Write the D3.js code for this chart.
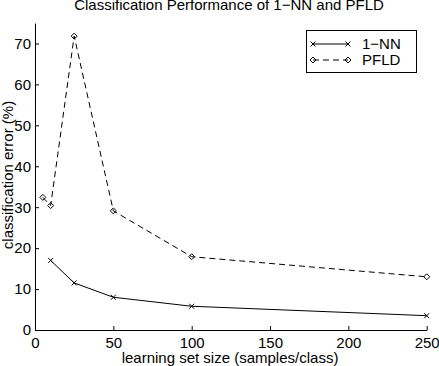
<!DOCTYPE html>
<html>
<head>
<style>
  body { margin: 0; background: #fff; }
  text { font-family: "Liberation Sans", Arial, sans-serif; }
</style>
</head>
<body>
<script src="https://cdnjs.cloudflare.com/ajax/libs/d3/7.8.5/d3.min.js"></script>
<script>
var w = 439, h = 366;

// data
var nnSizes = [10, 25, 50, 100, 250];
var nnError = [17, 11.5, 8, 5.8, 3.5];
var pfldSizes = [5, 10, 25, 50, 100, 250];
var pfldError = [32.4, 30.4, 71.8, 29.1, 17.9, 13];
var xTicks = [0, 50, 100, 150, 200, 250];
var yTicks = [0, 10, 20, 30, 40, 50, 60, 70];

var plotLeft = 35, plotRight = 426.7, plotTop = 23, plotBottom = 330;
var fs = "15px";

var x = d3.scaleLinear().domain([0, 250]).range([plotLeft, plotRight]);
var y = d3.scaleLinear().domain([0, 75]).range([plotBottom, plotTop]);

var svg = d3.select("body").append("svg")
    .attr("width", w).attr("height", h);

// axes with inward ticks
var xAxis = svg.append("g")
    .attr("transform", "translate(0," + plotBottom + ")")
    .call(d3.axisBottom(x).tickValues(xTicks).tickSize(-4).tickPadding(7).tickSizeOuter(0));
var yAxis = svg.append("g")
    .attr("transform", "translate(" + plotLeft + ",0)")
    .call(d3.axisLeft(y).tickValues(yTicks).tickSize(-4).tickPadding(4).tickSizeOuter(0));

[xAxis, yAxis].forEach(function(g) {
    g.select(".domain").attr("stroke", "#000").attr("stroke-width", 1);
    g.selectAll(".tick line").attr("stroke", "#000");
    g.selectAll(".tick text").attr("font-size", fs).attr("fill", "#000")
        .attr("font-family", "Liberation Sans, Arial, sans-serif");
});

var nnData = nnSizes.map(function(d, i) { return [d, nnError[i]]; });
var pfldData = pfldSizes.map(function(d, i) { return [d, pfldError[i]]; });

var line = d3.line()
    .x(function(d) { return x(d[0]); })
    .y(function(d) { return y(d[1]); });

svg.append("path").datum(nnData)
    .attr("d", line).attr("fill", "none")
    .attr("stroke", "#000").attr("stroke-width", 1);

svg.append("path").datum(pfldData)
    .attr("d", line).attr("fill", "none")
    .attr("stroke", "#000").attr("stroke-width", 1)
    .attr("stroke-dasharray", "6,4");

// markers
function xMark(g, cx, cy) {
    g.append("path")
        .attr("d", "M" + (cx - 2.5) + "," + (cy - 2.5) + "L" + (cx + 2.5) + "," + (cy + 2.5) +
                   "M" + (cx - 2.5) + "," + (cy + 2.5) + "L" + (cx + 2.5) + "," + (cy - 2.5))
        .attr("stroke", "#000").attr("fill", "none");
}
function dMark(g, cx, cy) {
    g.append("path")
        .attr("d", "M" + cx + "," + (cy - 3) + "L" + (cx + 3) + "," + cy + "L" + cx + "," + (cy + 3) +
                   "L" + (cx - 3) + "," + cy + "Z")
        .attr("stroke", "#000").attr("fill", "none");
}

nnData.forEach(function(d) { xMark(svg, x(d[0]), y(d[1])); });
pfldData.forEach(function(d) { dMark(svg, x(d[0]), y(d[1])); });

// title and labels
svg.append("text")
    .attr("x", 229).attr("y", 10)
    .attr("text-anchor", "middle").attr("font-size", fs)
    .text("Classification Performance of 1\u2212NN and PFLD");

svg.append("text")
    .attr("x", 230).attr("y", 363)
    .attr("text-anchor", "middle").attr("font-size", fs)
    .text("learning set size (samples/class)");

svg.append("text")
    .attr("transform", "translate(13," + 175 + ") rotate(-90)")
    .attr("text-anchor", "middle").attr("font-size", fs)
    .text("classification error (%)");

// legend
var lg = svg.append("g");
lg.append("rect")
    .attr("x", 306.5).attr("y", 30.5).attr("width", 110).attr("height", 42)
    .attr("fill", "#fff").attr("stroke", "#000");
var legendNames = ["1\u2212NN", "PFLD"];
legendNames.forEach(function(name, i) {
    var ly = 44 + i * 16;
    lg.append("line")
        .attr("x1", 313).attr("x2", 348).attr("y1", ly).attr("y2", ly)
        .attr("stroke", "#000")
        .attr("stroke-dasharray", i === 1 ? "6,4" : null);
    if (i === 0) { xMark(lg, 313, ly); xMark(lg, 348, ly); }
    else { dMark(lg, 313, ly); dMark(lg, 348, ly); }
    lg.append("text")
        .attr("x", 362).attr("y", ly + 5)
        .attr("font-size", fs)
        .text(name);
});
</script>
</body>
</html>
